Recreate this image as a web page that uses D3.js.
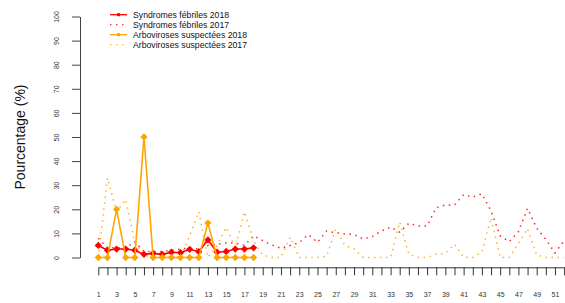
<!DOCTYPE html>
<html>
<head>
<meta charset="utf-8">
<script src="https://cdn.jsdelivr.net/npm/d3@7"></script>
<style>
  body { margin: 0; background: #fff; }
  svg { display: block; font-family: "Liberation Sans", Arial, sans-serif; }
</style>
</head>
<body>
<div id="chart"></div>
<script>
// semaines 1..52
const weeks = d3.range(1, 53);
const yTicks = [0, 10, 20, 30, 40, 50, 60, 70, 80, 90, 100];

// 2018 : semaines 1..18
const syndromes2018 = [5, 3, 3.5, 3.5, 3, 1.3, 1.7, 1.3, 2.2, 2, 3.4, 2.4, 7.3, 2.2, 2.5, 3.5, 3.5, 4];
const arbo2018 = [0, 0, 20, 0, 0, 50, 0, 0, 0, 0, 0, 0, 14.3, 0, 0, 0, 0, 0];

// 2017 : semaines 1..52
const syndromes2017 = [8, 4, 4, 4, 6.5, 2.5, 2.5, 2.5, 3, 3.5, 4, 3.5, 5, 5.5, 6, 6, 5, 9,
  7, 5.2, 3.8, 5, 6.2, 9.5, 6.3, 11, 10.3, 9.8, 9.5, 7.7, 8.7, 11, 12.6, 10.5, 14.2,
  13.1, 13.1, 20.7, 21.8, 21.8, 26.1, 25.1, 26.4, 19.3, 9, 6.6, 10.7, 20.4, 12.1, 7.5, 1.9, 7];
const arbo2017 = [0, 33, 19, 24, 6, 1, 0, 0, 0, 0, 9, 19, 0, 5, 12.5, 4, 19, 7,
  1, 0, 0, 8.4, 0, 0, 0, 0.5, 11.8, 5, 3.6, 0, 0, 0, 0, 14.7, 1.3,
  0, 0, 1.4, 1.7, 5.5, 0, 0, 2.3, 16.5, 0, 0, 5.9, 12, 1, 0, 0, 0];

const legendNames = ["Syndromes fébriles 2018", "Syndromes fébriles 2017",
                     "Arboviroses suspectées 2018", "Arboviroses suspectées 2017"];

const RED = "#ff0000", ORANGE = "#ffa500";

const W = 565, H = 303;
const svg = d3.select("#chart").append("svg").attr("width", W).attr("height", H);

const x = d3.scaleLinear().domain([1, 52]).range([98.3, 564.1]);
const y = d3.scaleLinear().domain([0, 100]).range([257.5, 16.5]);

// axe x
const gx = svg.append("g").attr("transform", "translate(0,267.3)")
  .call(d3.axisBottom(x).tickValues(weeks).tickSize(8).tickSizeOuter(0).tickPadding(17)
    .tickFormat(d => d % 2 === 1 ? d : ""));
gx.selectAll("text").attr("font-size", 7).attr("fill", "#333");
gx.selectAll("line, path").attr("stroke", "#333");

// axe y
const gy = svg.append("g").attr("transform", "translate(80,0)")
  .call(d3.axisLeft(y).tickValues(yTicks).tickSize(8).tickSizeOuter(0));
gy.selectAll("text")
  .attr("x", null).attr("dy", null)
  .attr("text-anchor", "middle")
  .attr("transform", "translate(-21,0) rotate(-90)")
  .attr("font-size", 7).attr("fill", "#333");
gy.selectAll("line, path").attr("stroke", "#444");

svg.append("text")
  .attr("transform", "translate(25,137) rotate(-90)")
  .attr("text-anchor", "middle")
  .attr("font-size", 14)
  .attr("fill", "#111")
  .text("Pourcentage (%)");

const line = d3.line().x((d, i) => x(i + 1)).y(d => y(d));

// 2017 en pointillés
svg.append("path").datum(syndromes2017)
  .attr("fill", "none").attr("stroke", RED).attr("stroke-width", 1.5)
  .attr("stroke-dasharray", "1.5,4.5").attr("opacity", 0.85)
  .attr("d", line);
svg.append("path").datum(arbo2017)
  .attr("fill", "none").attr("stroke", ORANGE).attr("stroke-width", 1.5)
  .attr("stroke-dasharray", "1.5,4.5").attr("opacity", 0.85)
  .attr("d", line);

// 2018 en traits pleins avec marqueurs
const drawSolid = (data, color) => {
  svg.append("path").datum(data)
    .attr("fill", "none").attr("stroke", color).attr("stroke-width", 1.6)
    .attr("d", line);
  svg.append("g").selectAll("path").data(data).join("path")
    .attr("transform", (d, i) => "translate(" + x(i + 1) + "," + y(d) + ")")
    .attr("d", d3.symbol(d3.symbolDiamond2, 34))
    .attr("fill", color);
};
drawSolid(syndromes2018, RED);
drawSolid(arbo2018, ORANGE);

// légende
const legendColors = [RED, RED, ORANGE, ORANGE];
const legendDash = [null, "1.5,4.5", null, "1.5,4.5"];
const leg = svg.append("g");
legendNames.forEach((name, i) => {
  const ly = 14.7 + i * 10;
  leg.append("line").attr("x1", 110).attr("x2", 127).attr("y1", ly).attr("y2", ly)
    .attr("stroke", legendColors[i]).attr("stroke-width", 1.3)
    .attr("stroke-dasharray", legendDash[i]).attr("opacity", legendDash[i] ? 0.8 : 1);
  if (!legendDash[i]) {
    leg.append("rect").attr("x", 117).attr("y", ly - 1.5).attr("width", 3).attr("height", 3)
      .attr("fill", legendColors[i]);
  }
  leg.append("text").attr("x", 133).attr("y", ly).attr("dy", "0.35em")
    .attr("font-size", 8.7).attr("fill", "#111").text(name);
});
</script>
</body>
</html>
